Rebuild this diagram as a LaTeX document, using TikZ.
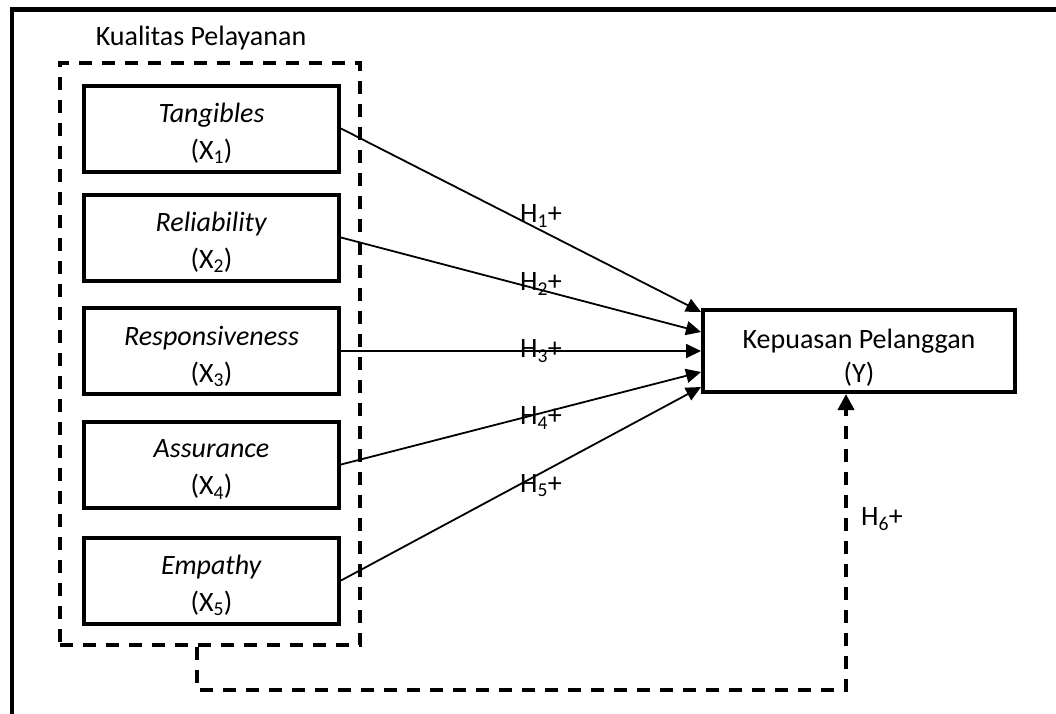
\documentclass[tikz,border=0pt]{standalone}
\usepackage{fontspec}
\setmainfont{Carlito}
\usetikzlibrary{arrows.meta}
\begin{document}
\begin{tikzpicture}[x=1pt,y=-1pt,
  txt/.style={font=\fontsize{28}{37}\selectfont, align=center},
  varbox/.style={draw, line width=4pt, minimum width=255pt, minimum height=86pt, inner sep=0pt,
     label={[txt, yshift=-5pt]center:#1}},
  ybox/.style={draw, line width=4pt, minimum width=312pt, minimum height=82pt, inner sep=0pt},
  grp/.style={draw, line width=3.8pt, dash pattern=on 13pt off 10pt, minimum width=300pt, minimum height=582pt, inner sep=0pt},
  conn/.style={line width=1.8pt, -{Triangle[length=15pt,width=14pt]}},
  dconn/.style={line width=3.8pt, dash pattern=on 13pt off 10pt, -{Triangle[length=16pt,width=16pt]}},
  hlab/.style={font=\fontsize{28}{37}\selectfont, inner sep=0pt}
]
\useasboundingbox (0,0) rectangle (1056,713);
\clip (0,0) rectangle (1056,713);
\fill[white] (0,0) rectangle (1056,713);
% outer frame (top and left visible)
\draw[line width=4.5pt] (12,720) -- (12,9.5) -- (1070,9.5);

\node[txt, inner sep=0pt] (title) at (201,38) {Kualitas Pelayanan};
\node[grp] (kp) at (210,354) {};

\node[varbox={\textit{Tangibles}\\(X\textsubscript{1})}] (x1) at (211.5,128.5) {};
\node[varbox={\textit{Reliability}\\(X\textsubscript{2})}] (x2) at (211.5,237.5) {};
\node[varbox={\textit{Responsiveness}\\(X\textsubscript{3})}] (x3) at (211.5,351) {};
\node[varbox={\textit{Assurance}\\(X\textsubscript{4})}] (x4) at (211.5,464.5) {};
\node[varbox={\textit{Empathy}\\(X\textsubscript{5})}] (x5) at (211.5,580.5) {};

\node[ybox, label={[txt, yshift=-7pt, font=\fontsize{28}{34}\selectfont]center:Kepuasan Pelanggan\\(Y)}] (y) at (859,351) {};

\draw[conn] (x1.east) -- ([yshift=39pt]y.west);
\draw[conn] (x2.east) -- ([yshift=19pt]y.west);
\draw[conn] (x3.east) -- ([yshift=0pt]y.west);
\draw[conn] (x4.east) -- ([yshift=-21pt]y.west);
\draw[conn] (x5.east) -- ([yshift=-36pt]y.west);

\node[hlab] (h1) at (541,216) {H\textsubscript{1}+};
\node[hlab] (h2) at (541,284) {H\textsubscript{2}+};
\node[hlab] (h3) at (541,351) {H\textsubscript{3}+};
\node[hlab] (h4) at (541,418) {H\textsubscript{4}+};
\node[hlab] (h5) at (541,486) {H\textsubscript{5}+};
\node[hlab] (h6) at (882,519) {H\textsubscript{6}+};

\draw[dconn] ([xshift=-13pt]kp.south) -- ++(0,43) -| ([xshift=-13pt]y.south);
\end{tikzpicture}
\end{document}
